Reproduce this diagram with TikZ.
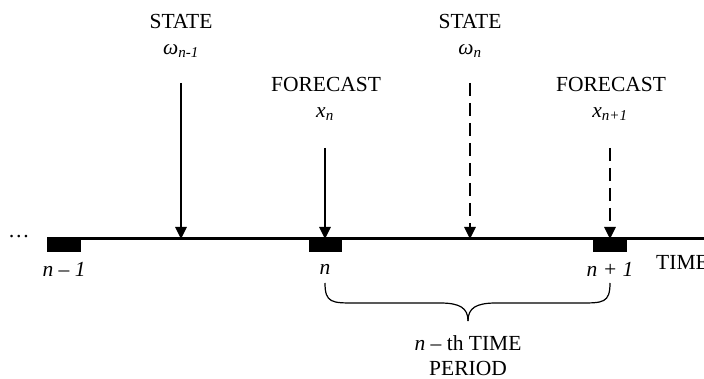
\documentclass[tikz,border=0pt]{standalone}
\usepackage{fontspec}
\setmainfont{Liberation Serif}
\usetikzlibrary{arrows.meta}
\begin{document}
\begin{tikzpicture}[x=1pt,y=-1pt,
  lbl/.style={font=\fontsize{21.5}{24}\selectfont, inner sep=0pt},
  sub/.style={font=\fontsize{21.5}{24}\selectfont\itshape, inner sep=0pt},
  block/.style={fill=black, draw=none},
  evt/.style={line width=2.8pt, -{Triangle[length=12pt,width=11pt]}},
  future/.style={evt, dash pattern=on 13pt off 7pt},
  axis/.style={line width=3pt}]
\useasboundingbox (0,0) rectangle (704,379);
\fill[white] (0,0) rectangle (704,379);

% time axis and period blocks
\draw[axis] (47,239) -- (706,239);
\fill[block] (47,239) rectangle (81,252);
\fill[block] (309,239) rectangle (342,252);
\fill[block] (593,239) rectangle (627,252);
\coordinate (tn) at (325,239);
\coordinate (tnext) at (610,239);
\coordinate (sprev) at (181,239);
\coordinate (sn) at (470,239);

\node[lbl] (dots) at (19,238) {\raisebox{0.3ex}{…}};
\node[sub] (lprev) at (64,269) {n – 1};
\node[sub] (ln) at (325,269) {n};
\node[sub] (lnext) at (610,269) {n + 1};
\node[lbl, anchor=west] (time) at (656,262) {TIME};

% states and forecasts
\node[lbl] (st1) at (181,21) {STATE};
\node[sub] (w1) at (181,51) {ω\textsubscript{n-1}};
\node[lbl] (fc1) at (326,84) {FORECAST};
\node[sub] (x1) at (325,114) {x\textsubscript{n}};
\node[lbl] (st2) at (470,21) {STATE};
\node[sub] (w2) at (470,51) {ω\textsubscript{n}};
\node[lbl] (fc2) at (611,84) {FORECAST};
\node[sub] (x2) at (610,114) {x\textsubscript{n+1}};

\coordinate (a1) at (181,83);
\coordinate (a2) at (325,148);
\coordinate (a3) at (470,83);
\coordinate (a4) at (610,148);
\draw[evt] (a1) -- (sprev);
\draw[evt] (a2) -- (tn);
\draw[future] (a3) -- (sn);
\draw[future] (a4) -- (tnext);

% brace spanning the n-th period
\coordinate (bl) at (325,283);
\coordinate (br) at (610,283);
\coordinate (btip) at (468,321);
\draw[line width=1.2pt] (bl) .. controls (325,303) and (332,303) .. (355,303)
  -- (440,303) .. controls (460,303) and (468,308) .. (btip);
\draw[line width=1.2pt] (br) .. controls (610,303) and (603,303) .. (580,303)
  -- (496,303) .. controls (476,303) and (468,308) .. (btip);
\node[lbl] (per1) at (468,343) {\textit{n} – th TIME};
\node[lbl] (per2) at (468,368) {PERIOD};
\end{tikzpicture}
\end{document}
